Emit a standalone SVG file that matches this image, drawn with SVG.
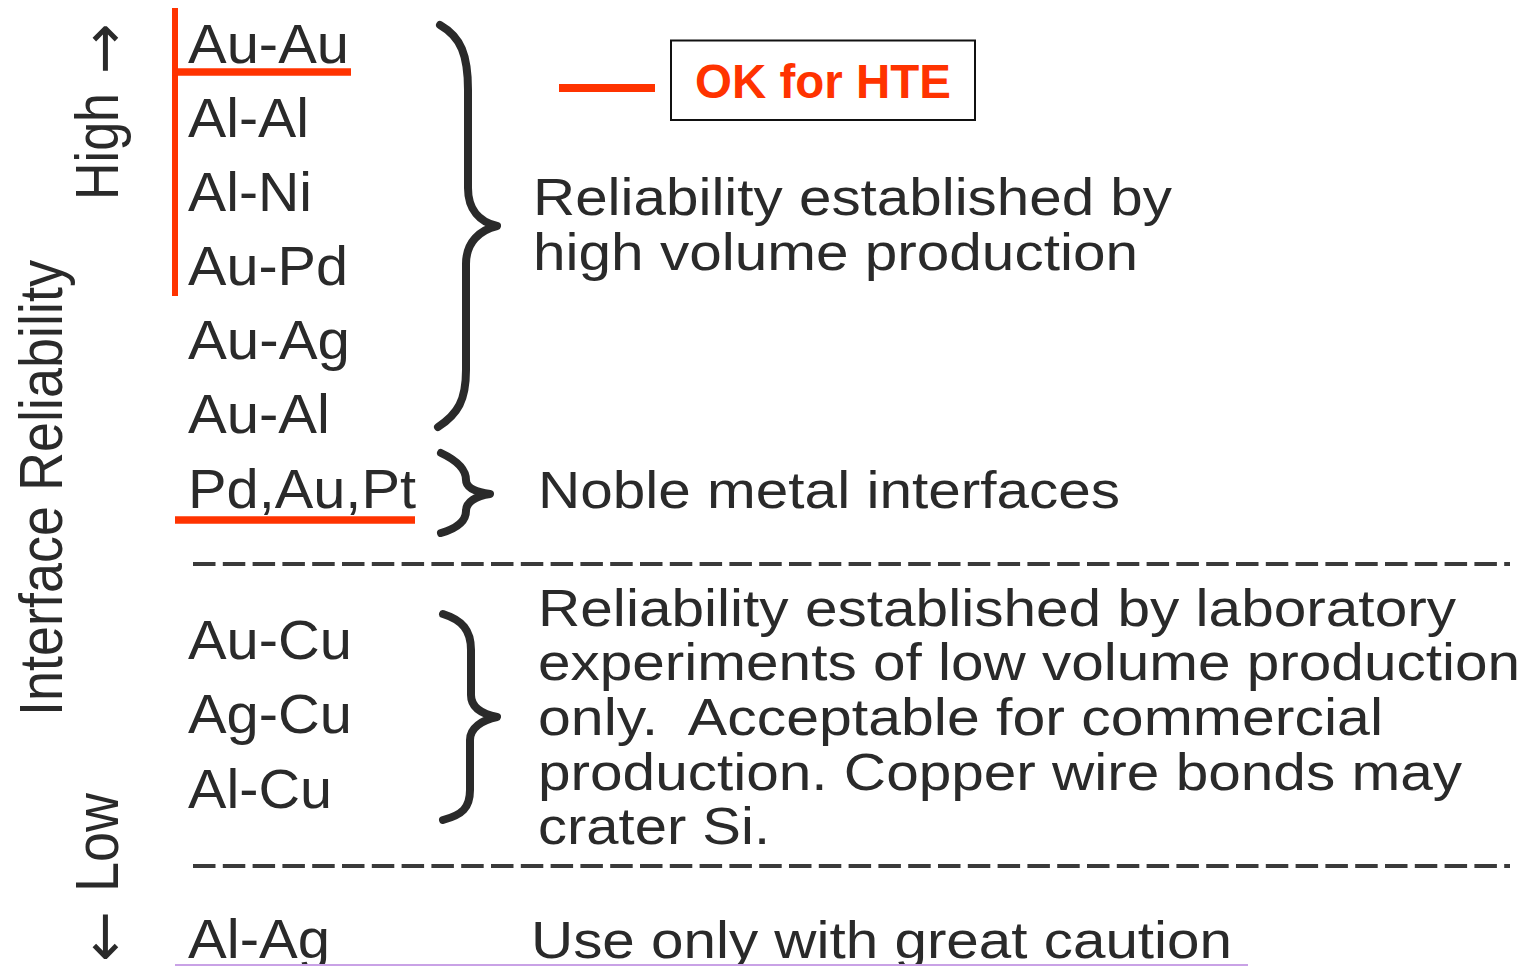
<svg xmlns="http://www.w3.org/2000/svg" width="1528" height="966" viewBox="0 0 1528 966">
<style>
  text { font-family: "Liberation Sans", Arial, Helvetica, sans-serif; fill: #2a2a2a; }
  .item { font-size: 55px; }
  .desc { font-size: 52px; }
  .axis { font-size: 55px; }
  .arrow { font-family: "DejaVu Sans", "Liberation Sans", sans-serif; font-size: 60px; }
  .brace { fill: none; stroke: #2a2a2a; stroke-width: 8; stroke-linecap: round; stroke-linejoin: round; }
  .red { stroke: #ff3300; fill: none; }
  .dash { stroke: #3a3a3a; stroke-width: 4; stroke-dasharray: 22.5 7.3; fill: none; }
  .hte { font-size: 48px; font-weight: bold; fill: #ff3300; }
</style>
<rect x="0" y="0" width="1528" height="966" fill="#ffffff"/>

<g id="axis">
  <text class="axis" transform="translate(62,716) scale(1.1,1) rotate(-90)" x="0" y="0" textLength="456" lengthAdjust="spacingAndGlyphs">Interface Reliability</text>
  <text class="axis" transform="translate(118,200) scale(1.1,1) rotate(-90)" x="0" y="0" textLength="107" lengthAdjust="spacingAndGlyphs">High</text>
  <text class="arrow" transform="translate(124,74) rotate(-90)" x="0" y="0" textLength="51" lengthAdjust="spacingAndGlyphs">→</text>
  <text class="arrow" transform="translate(124,962) rotate(-90)" x="0" y="0" textLength="51" lengthAdjust="spacingAndGlyphs">←</text>
  <text class="axis" transform="translate(118,892) scale(1.1,1) rotate(-90)" x="0" y="0" textLength="99" lengthAdjust="spacingAndGlyphs">Low</text>
</g>

<g id="items">
  <text class="item" x="188" y="63" textLength="161" lengthAdjust="spacingAndGlyphs">Au-Au</text>
  <text class="item" x="188" y="137" textLength="121" lengthAdjust="spacingAndGlyphs">Al-Al</text>
  <text class="item" x="188" y="211" textLength="124" lengthAdjust="spacingAndGlyphs">Al-Ni</text>
  <text class="item" x="188" y="285" textLength="160" lengthAdjust="spacingAndGlyphs">Au-Pd</text>
  <text class="item" x="188" y="359" textLength="162" lengthAdjust="spacingAndGlyphs">Au-Ag</text>
  <text class="item" x="188" y="433" textLength="142" lengthAdjust="spacingAndGlyphs">Au-Al</text>
  <text class="item" x="188" y="508" textLength="228" lengthAdjust="spacingAndGlyphs">Pd,Au,Pt</text>
  <text class="item" x="188" y="659" textLength="164" lengthAdjust="spacingAndGlyphs">Au-Cu</text>
  <text class="item" x="188" y="733" textLength="164" lengthAdjust="spacingAndGlyphs">Ag-Cu</text>
  <text class="item" x="188" y="808" textLength="144" lengthAdjust="spacingAndGlyphs">Al-Cu</text>
  <text class="item" x="188" y="958" textLength="142" lengthAdjust="spacingAndGlyphs">Al-Ag</text>
</g>

<g id="braces">
  <path class="brace" d="M440,25 C461,37 468,55 468,90 L468,188 C468,210 480,222 497,226 C480,230 466,242 466,264 L466,370 C466,400 458,414 438,427"/>
  <path class="brace" d="M441,453 C458,461 466,470 466,480 C466,488 476,492 490,494 C476,496 466,502 466,511 C466,521 458,528 441,533"/>
  <path class="brace" d="M443,614 C462,620 471,630 471,650 L471,695 C471,708 482,714 497,717 C482,720 470,728 470,740 L470,790 C470,808 462,815 443,820"/>
</g>

<g id="desc-high-volume">
  <text class="desc" x="533" y="215" textLength="639" lengthAdjust="spacingAndGlyphs">Reliability established by</text>
  <text class="desc" x="533" y="270" textLength="605" lengthAdjust="spacingAndGlyphs">high volume production</text>
</g>
<g id="desc-noble">
  <text class="desc" x="538" y="508" textLength="582" lengthAdjust="spacingAndGlyphs">Noble metal interfaces</text>
</g>
<g id="desc-laboratory">
  <text class="desc" x="538" y="626" textLength="918" lengthAdjust="spacingAndGlyphs">Reliability established by laboratory</text>
  <text class="desc" x="538" y="680" textLength="982" lengthAdjust="spacingAndGlyphs">experiments of low volume production</text>
  <text class="desc" x="538" y="735" textLength="845" lengthAdjust="spacingAndGlyphs" style="white-space:pre">only.  Acceptable for commercial</text>
  <text class="desc" x="538" y="790" textLength="924" lengthAdjust="spacingAndGlyphs">production. Copper wire bonds may</text>
  <text class="desc" x="538" y="844" textLength="232" lengthAdjust="spacingAndGlyphs">crater Si.</text>
</g>
<g id="desc-caution">
  <text class="desc" x="531" y="958" textLength="701" lengthAdjust="spacingAndGlyphs">Use only with great caution</text>
</g>

<g id="dividers">
  <line class="dash" x1="193" y1="564" x2="1510" y2="564"/>
  <line class="dash" x1="193" y1="866" x2="1510" y2="866"/>
  <line x1="175" y1="965" x2="1248" y2="965" stroke="#c9a2e6" stroke-width="2"/>
</g>

<g id="red-markers">
  <line class="red" x1="175" y1="8" x2="175" y2="296" stroke-width="6"/>
  <line class="red" x1="172" y1="72" x2="351" y2="72" stroke-width="7.5"/>
  <line class="red" x1="175" y1="520" x2="415" y2="520" stroke-width="7.5"/>
</g>

<g id="connectors">
  <line class="red" x1="559" y1="88" x2="655" y2="88" stroke-width="8"/>
</g>

<g id="hte-callout">
  <rect x="671" y="40.5" width="304" height="79.5" fill="#ffffff" stroke="#111111" stroke-width="2"/>
  <text class="hte" x="695" y="98" textLength="256" lengthAdjust="spacingAndGlyphs">OK for HTE</text>
</g>
</svg>
